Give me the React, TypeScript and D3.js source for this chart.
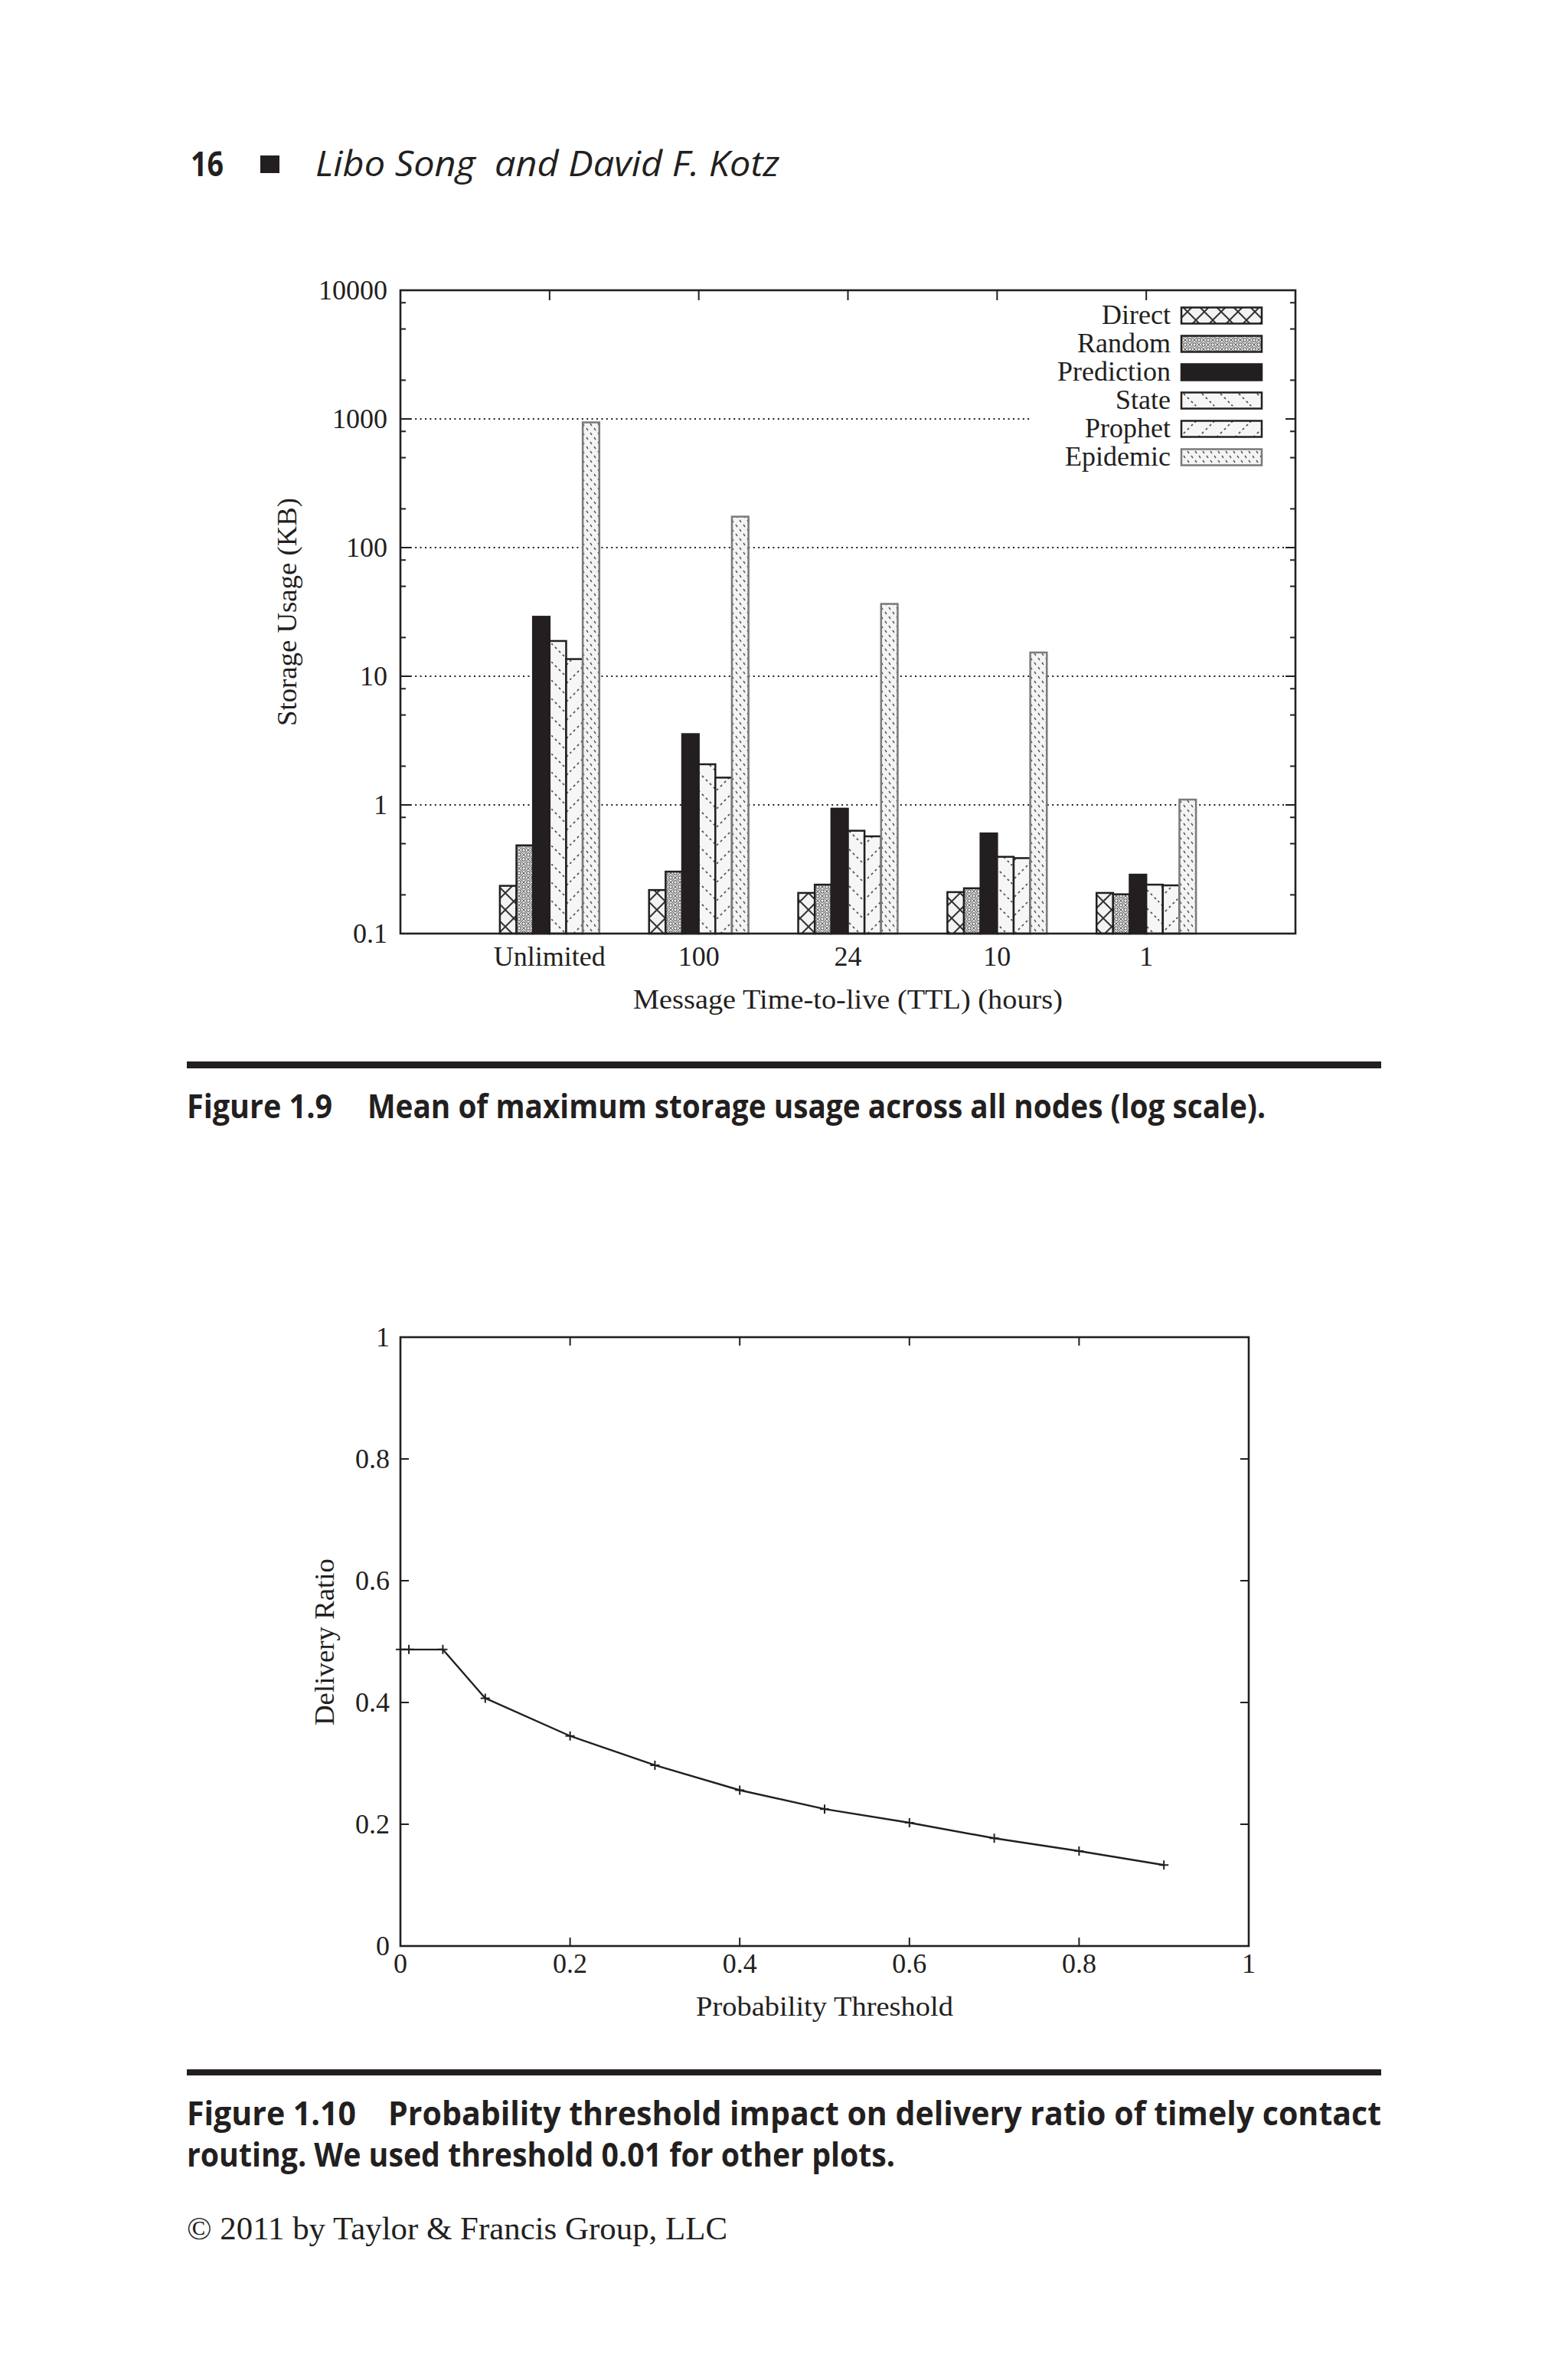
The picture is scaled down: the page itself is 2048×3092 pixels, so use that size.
import * as d3 from "d3";
import React from "react";

// Figure 1.9 data (mean of maximum storage usage, KB, log scale)
const ttlLabels = ["Unlimited", "100", "24", "10", "1"];
const seriesNames = ["Direct", "Random", "Prediction", "State", "Prophet", "Epidemic"];
const direct = [0.235, 0.218, 0.207, 0.21, 0.207];
const random = [0.485, 0.303, 0.24, 0.225, 0.202];
const prediction = [29, 3.55, 0.935, 0.6, 0.287];
const state = [18.8, 2.07, 0.63, 0.395, 0.24];
const prophet = [13.6, 1.63, 0.57, 0.386, 0.237];
const epidemic = [940, 174, 36.5, 15.3, 1.1];
const storageTicks = [0.1, 1, 10, 100, 1000, 10000];

// Figure 1.10 data
const thresholds = [0, 0.01, 0.05, 0.1, 0.2, 0.3, 0.4, 0.5, 0.6, 0.7, 0.8, 0.9];
const deliveryRatio = [0.487, 0.487, 0.487, 0.407, 0.345, 0.297, 0.256, 0.225, 0.2025, 0.177, 0.156, 0.133];
const ratioTicks = [0, 0.2, 0.4, 0.6, 0.8, 1];
const thresholdTicks = [0, 0.2, 0.4, 0.6, 0.8, 1];

const ink = "#231f20";
const serif = "'Liberation Serif', 'Times New Roman', serif";
const sans = "'Liberation Sans Narrow', 'Open Sans', 'Liberation Sans', sans-serif";
const fs = 36;

export default function App() {
  const seriesValues = [direct, random, prediction, state, prophet, epidemic];
  const fills = ["url(#pDirect)", "url(#pRandom)", ink, "url(#pState)", "url(#pProphet)", "url(#pEpidemic)"];
  const strokes = [ink, ink, ink, ink, ink, "#7a7a7a"];

  // chart 1 scales
  const x1 = d3.scaleLinear().domain([-1, ttlLabels.length]).range([523, 1692]);
  const y1 = d3.scaleLog().domain([0.1, 10000]).range([1219, 379]);
  const step = x1(1) - x1(0);
  const bw = step / 9;
  const minorTicks = storageTicks.slice(0, -1).flatMap((d) => [2, 5, 8].map((m) => d * m));
  const gridTicks = storageTicks.slice(1, -1);

  // chart 2 scales
  const x2 = d3.scaleLinear().domain([0, 1]).range([523, 1631]);
  const y2 = d3.scaleLinear().domain([0, 1]).range([2541, 1746]);
  const pts = thresholds.map((t, i) => [t, deliveryRatio[i]] as [number, number]);
  const line = d3
    .line<[number, number]>()
    .x((d) => x2(d[0]))
    .y((d) => y2(d[1]));

  const legendY = (i: number) => 412 + i * 37;

  return (
    <svg
      width={2048}
      height={3092}
      style={{ position: "absolute", left: 0, top: 0, background: "#fff" }}
    >
      <defs>
        <pattern id="pDirect" patternUnits="userSpaceOnUse" width={22} height={22}>
          <rect width={22} height={22} fill="#f3f3f3" />
          <path d="M0,0L22,22M22,0L0,22" stroke="#333" strokeWidth={2} />
        </pattern>
        <pattern id="pRandom" patternUnits="userSpaceOnUse" width={12} height={12}>
          <rect width={12} height={12} fill="#f0f0f0" />
          <path d="M0,0L12,12M12,0L0,12" stroke="#666" strokeWidth={1.1} />
          <circle cx={6} cy={0} r={2.2} fill="none" stroke="#555" strokeWidth={1.1} />
          <circle cx={6} cy={12} r={2.2} fill="none" stroke="#555" strokeWidth={1.1} />
          <circle cx={0} cy={6} r={2.2} fill="none" stroke="#555" strokeWidth={1.1} />
          <circle cx={12} cy={6} r={2.2} fill="none" stroke="#555" strokeWidth={1.1} />
        </pattern>
        <pattern id="pState" patternUnits="userSpaceOnUse" width={24} height={24}>
          <rect width={24} height={24} fill="#f6f6f6" />
          <path d="M0,0L24,24" stroke="#555" strokeWidth={1.8} strokeDasharray="3 4" />
        </pattern>
        <pattern id="pProphet" patternUnits="userSpaceOnUse" width={24} height={24}>
          <rect width={24} height={24} fill="#f6f6f6" />
          <path d="M0,24L24,0" stroke="#555" strokeWidth={1.8} strokeDasharray="3 4" />
        </pattern>
        <pattern id="pEpidemic" patternUnits="userSpaceOnUse" width={10} height={12}>
          <rect width={10} height={12} fill="#f4f4f4" />
          <path d="M1,1L3,4M6,7L8,10" stroke="#555" strokeWidth={1.4} />
        </pattern>
      </defs>

      {/* page header */}
      <text x={249} y={230} fontFamily={sans} fontWeight="bold" fontSize={44} fill={ink} textLength={43} lengthAdjust="spacingAndGlyphs">
        16
      </text>
      <rect x={340} y={203} width={25} height={23} fill={ink} />
      <text
        x={412}
        y={230}
        fontFamily={sans}
        fontStyle="italic"
        fontSize={45}
        fill={ink}
        textLength={606}
        lengthAdjust="spacingAndGlyphs"
        style={{ whiteSpace: "pre" }}
      >
        {"Libo Song  and David F. Kotz"}
      </text>

      {/* ---------- Figure 1.9 ---------- */}
      <g>
        {gridTicks.map((t) => (
          <line
            key={"g" + t}
            x1={x1.range()[0]}
            x2={x1.range()[1]}
            y1={y1(t)}
            y2={y1(t)}
            stroke={ink}
            strokeWidth={2.2}
            strokeDasharray="2 4.4"
          />
        ))}
        {/* opaque key box */}
        <rect x={1348} y={392} width={340} height={222} fill="#fff" />

        {ttlLabels.map((_, g) => (
          <line key={"bt" + g} x1={x1(g)} x2={x1(g)} y1={1219} y2={1206} stroke={ink} strokeWidth={2} />
        ))}

        {seriesValues.map((vals, s) =>
          vals.map((v, g) => (
            <rect
              key={s + "-" + g}
              x={x1(g) + (s - 3) * bw}
              y={y1(v)}
              width={bw}
              height={y1(0.1) - y1(v)}
              fill={fills[s]}
              stroke={strokes[s]}
              strokeWidth={2.5}
            />
          ))
        )}

        {/* frame */}
        <rect x={523} y={379} width={1692 - 523} height={1219 - 379} fill="none" stroke={ink} strokeWidth={2.6} />

        {/* y ticks left/right */}
        {storageTicks.map((t) => (
          <g key={"yt" + t}>
            <line x1={523} x2={536} y1={y1(t)} y2={y1(t)} stroke={ink} strokeWidth={2} />
            <line x1={1692} x2={1679} y1={y1(t)} y2={y1(t)} stroke={ink} strokeWidth={2} />
            <text
              x={506}
              y={y1(t)}
              textAnchor="end"
              dominantBaseline="central"
              fontFamily={serif}
              fontSize={fs}
              fill={ink}
            >
              {String(t)}
            </text>
          </g>
        ))}
        {minorTicks.map((t) => (
          <g key={"ym" + t}>
            <line x1={523} x2={530} y1={y1(t)} y2={y1(t)} stroke={ink} strokeWidth={2} />
            <line x1={1692} x2={1685} y1={y1(t)} y2={y1(t)} stroke={ink} strokeWidth={2} />
          </g>
        ))}
        {/* x ticks (top) and labels */}
        {ttlLabels.map((lab, g) => (
          <g key={"xt" + g}>
            <line x1={x1(g)} x2={x1(g)} y1={379} y2={392} stroke={ink} strokeWidth={2} />
            <text x={x1(g)} y={1261} textAnchor="middle" fontFamily={serif} fontSize={fs} fill={ink}>
              {lab}
            </text>
          </g>
        ))}

        {/* key */}
        {seriesNames.map((name, i) => (
          <g key={"k" + name}>
            <text x={1529} y={legendY(i) + 11} textAnchor="end" fontFamily={serif} fontSize={fs} fill={ink}>
              {name}
            </text>
            <rect
              x={1543}
              y={legendY(i) - 10.5}
              width={105}
              height={21}
              fill={fills[i]}
              stroke={strokes[i]}
              strokeWidth={2.5}
            />
          </g>
        ))}

        {/* axis titles */}
        <text
          x={1107.5}
          y={1317}
          textAnchor="middle"
          fontFamily={serif}
          fontSize={fs}
          fill={ink}
          textLength={561}
          lengthAdjust="spacingAndGlyphs"
        >
          Message Time-to-live (TTL) (hours)
        </text>
        <text
          transform="translate(387,799) rotate(-90)"
          textAnchor="middle"
          fontFamily={serif}
          fontSize={fs}
          fill={ink}
          textLength={298}
          lengthAdjust="spacingAndGlyphs"
        >
          Storage Usage (KB)
        </text>
      </g>

      <rect x={244} y={1386} width={1560} height={9} fill={ink} />
      <text x={244} y={1460} fontFamily={sans} fontWeight="bold" fontSize={43} fill={ink} textLength={190} lengthAdjust="spacingAndGlyphs">
        Figure 1.9
      </text>
      <text x={480} y={1460} fontFamily={sans} fontWeight="bold" fontSize={43} fill={ink} textLength={1173} lengthAdjust="spacingAndGlyphs">
        Mean of maximum storage usage across all nodes (log scale).
      </text>

      {/* ---------- Figure 1.10 ---------- */}
      <g>
        <path
          d={line(pts) || ""}
          fill="none"
          stroke={ink}
          strokeWidth={2.4}
          strokeLinejoin="round"
        />
        {pts.map((p, i) => (
          <path
            key={"m" + i}
            d={`M${x2(p[0]) - 6},${y2(p[1])}h12M${x2(p[0])},${y2(p[1]) - 6}v12`}
            stroke={ink}
            strokeWidth={2}
          />
        ))}
        <rect x={523} y={1746} width={1631 - 523} height={2541 - 1746} fill="none" stroke={ink} strokeWidth={2.6} />
        {ratioTicks.map((t) => (
          <g key={"ry" + t}>
            <line x1={523} x2={534} y1={y2(t)} y2={y2(t)} stroke={ink} strokeWidth={2} />
            <line x1={1631} x2={1620} y1={y2(t)} y2={y2(t)} stroke={ink} strokeWidth={2} />
            <text
              x={509}
              y={y2(t)}
              textAnchor="end"
              dominantBaseline="central"
              fontFamily={serif}
              fontSize={fs}
              fill={ink}
            >
              {String(t)}
            </text>
          </g>
        ))}
        {thresholdTicks.map((t) => (
          <g key={"rx" + t}>
            <line x1={x2(t)} x2={x2(t)} y1={2541} y2={2530} stroke={ink} strokeWidth={2} />
            <line x1={x2(t)} x2={x2(t)} y1={1746} y2={1757} stroke={ink} strokeWidth={2} />
            <text x={x2(t)} y={2576} textAnchor="middle" fontFamily={serif} fontSize={fs} fill={ink}>
              {String(t)}
            </text>
          </g>
        ))}
        <text
          x={1077}
          y={2632}
          textAnchor="middle"
          fontFamily={serif}
          fontSize={fs}
          fill={ink}
          textLength={336}
          lengthAdjust="spacingAndGlyphs"
        >
          Probability Threshold
        </text>
        <text
          transform="translate(436,2144) rotate(-90)"
          textAnchor="middle"
          fontFamily={serif}
          fontSize={fs}
          fill={ink}
          textLength={218}
          lengthAdjust="spacingAndGlyphs"
        >
          Delivery Ratio
        </text>
      </g>

      <rect x={244} y={2702} width={1560} height={8} fill={ink} />
      <text x={244} y={2775} fontFamily={sans} fontWeight="bold" fontSize={43} fill={ink} textLength={221} lengthAdjust="spacingAndGlyphs">
        Figure 1.10
      </text>
      <text x={507} y={2775} fontFamily={sans} fontWeight="bold" fontSize={43} fill={ink} textLength={1297} lengthAdjust="spacingAndGlyphs">
        Probability threshold impact on delivery ratio of timely contact
      </text>
      <text x={244} y={2829} fontFamily={sans} fontWeight="bold" fontSize={43} fill={ink} textLength={925} lengthAdjust="spacingAndGlyphs">
        routing. We used threshold 0.01 for other plots.
      </text>

      <text x={244} y={2924} fontFamily={serif} fontSize={42} fill={ink} textLength={706} lengthAdjust="spacingAndGlyphs">
        © 2011 by Taylor &amp; Francis Group, LLC
      </text>
    </svg>
  );
}
